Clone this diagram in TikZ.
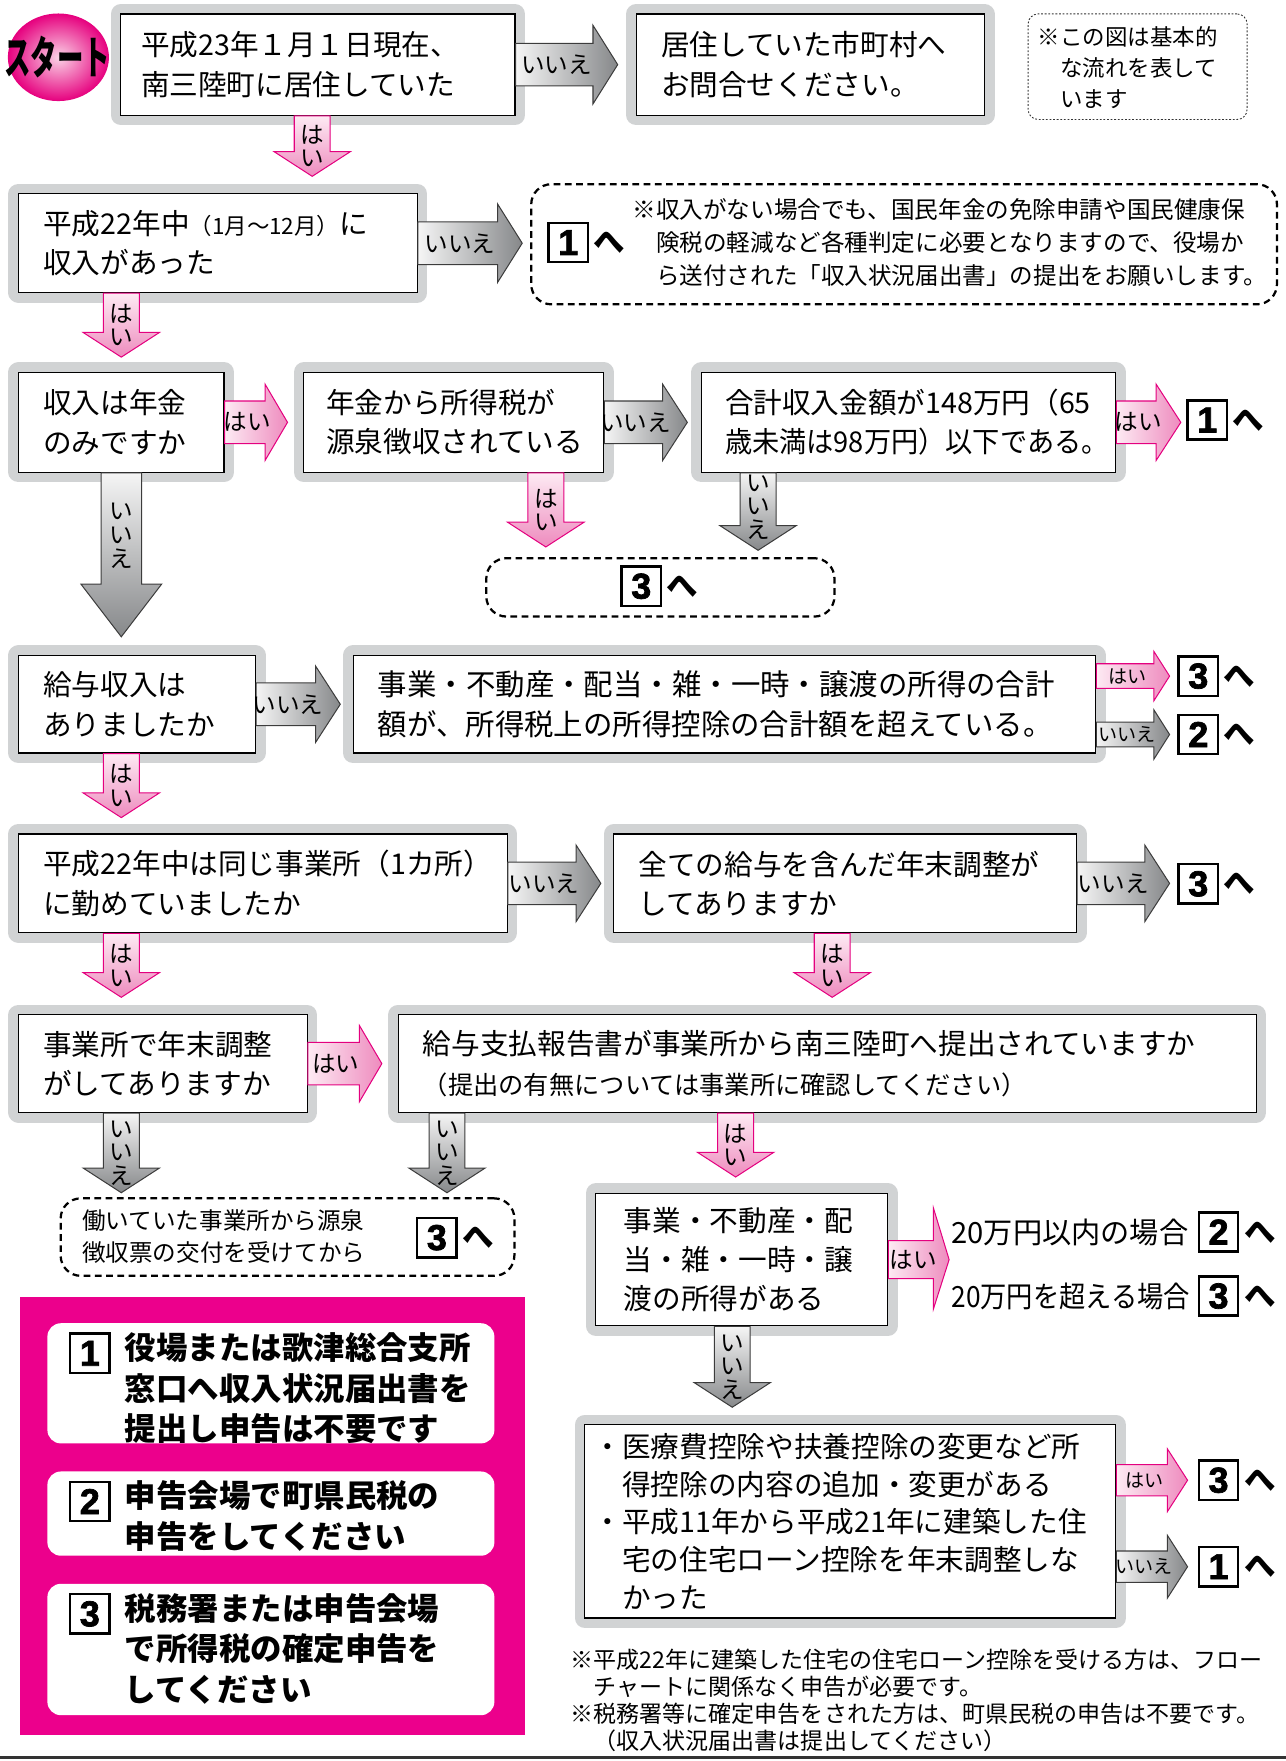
\documentclass[tikz,border=0pt]{standalone}
\usepackage{fontspec}
\setmainfont{Noto Sans CJK JP}
\newfontfamily\digitfont{Liberation Sans}[BoldFeatures={FakeBold=2}]
\usetikzlibrary{calc,shapes.geometric}
\definecolor{framegray}{HTML}{D1D3D4}
\definecolor{panelmag}{HTML}{EC008C}
\definecolor{pinkL}{HTML}{FDEAF3}
\definecolor{pinkD}{HTML}{EE8BBE}
\definecolor{pinkB}{HTML}{E4007F}
\definecolor{grayL}{HTML}{F5F5F5}
\definecolor{grayD}{HTML}{86888A}
\definecolor{grayB}{HTML}{3C3C3C}
\definecolor{badgeL}{HTML}{FAD3E6}
\definecolor{badgeD}{HTML}{E6007E}
\newcommand\mybxf{\fontsize{25.5}{35}\selectfont}
\newcommand\mylblf{\fontsize{21}{21}\selectfont}
\newcommand\mysmlblf{\fontsize{17}{17}\selectfont}
\newcommand\mynotef{\fontsize{21}{29.5}\selectfont}
\newcommand\mynumf{\fontsize{32}{32}\selectfont\digitfont\bfseries}
\newcommand\myhef{\fontsize{28}{28}\selectfont\bfseries}
\newcommand\mypanelf{\fontsize{28}{36}\selectfont\bfseries}
\newcommand\mystartf{\fontsize{31}{31}\selectfont\bfseries}
\tikzset{
  box/.style={draw=black, line width=1.1pt, fill=white,
    preaction={draw=framegray, line width=18pt, line join=round},
    inner ysep=0pt, align=left, anchor=north west, font=\mybxf},
  lbl/.style={font=\mylblf, inner sep=0pt},
  smlbl/.style={font=\mysmlblf, inner sep=0pt},
  vlbl/.style={font=\mylblf, inner sep=0pt, align=center},
  pinkH/.style={draw=pinkB, line width=0.9pt, left color=pinkL, right color=pinkD},
  pinkV/.style={draw=pinkB, line width=0.9pt, top color=pinkL, bottom color=pinkD},
  grayH/.style={draw=grayB, line width=0.9pt, left color=grayL, right color=grayD},
  grayV/.style={draw=grayB, line width=0.9pt, top color=grayL, bottom color=grayD},
  numbox/.style={draw=black, line width=2.2pt, fill=white, minimum width=35pt, minimum height=35pt, inner sep=0pt, font=\mynumf},
  hemark/.style={font=\myhef, inner sep=0pt, anchor=west},
  dashbox/.style={draw=black, line width=2pt, dash pattern=on 6pt off 4pt, rounded corners=18pt, anchor=north west, inner sep=0pt},
  dotbox/.style={draw=black!80, line width=0.8pt, dash pattern=on 1.6pt off 1.6pt, rounded corners=9pt, anchor=north west, inner sep=0pt},
  notetext/.style={font=\mynotef, align=left, inner sep=0pt, anchor=west},
  panelbox/.style={fill=white, rounded corners=12pt, anchor=north west, inner sep=0pt, minimum width=398pt},
  paneltext/.style={font=\mypanelf, align=left, inner sep=0pt, anchor=west},
}
% #1 style, #2 start, #3 end, #4 half shaft, #5 half head, #6 head length, #7 label style, #8 label
\newcommand\HArrow[8]{%
  \draw[#1] let \p1=#2, \p2=#3 in
    (\x1,\y1+#4pt) -- (\x2-#6pt,\y1+#4pt) -- (\x2-#6pt,\y1+#5pt) -- (\x2,\y1)
    -- (\x2-#6pt,\y1-#5pt) -- (\x2-#6pt,\y1-#4pt) -- (\x1,\y1-#4pt) -- cycle;
  \path let \p1=#2, \p2=#3 in node[#7] at ({(\x1+\x2-#6pt)/2+2pt},\y1) {#8};
}
% #1 style, #2 start, #3 end, #4 half shaft, #5 half head, #6 head length, #7 label shift up, #8 label
\newcommand\VArrow[8]{%
  \draw[#1] let \p1=#2, \p2=#3 in
    (\x1-#4pt,\y1) -- (\x1-#4pt,\y2+#6pt) -- (\x1-#5pt,\y2+#6pt) -- (\x1,\y2)
    -- (\x1+#5pt,\y2+#6pt) -- (\x1+#4pt,\y2+#6pt) -- (\x1+#4pt,\y1) -- cycle;
  \path let \p1=#2, \p2=#3 in node[vlbl] at (\x1,{(\y1+\y2)/2+#7pt}) {#8};
}
\begin{document}
\begin{tikzpicture}[x=1pt,y=-1pt]
\useasboundingbox (0,0) rectangle (1145,1568);

% start badge
\node[ellipse, minimum width=90pt, minimum height=78pt, inner sep=0pt, inner color=badgeL, outer color=badgeD] (badge) at (52,51) {};
\node[black, font=\mystartf, inner sep=0pt] (starttext) at (51,51) {\scalebox{0.76}[1.3]{スタート}};

% row 1
\node[box, inner xsep=18pt, text width=315pt, minimum height=90pt] (A) at (107,12) {平成23年１月１日現在、\\南三陸町に居住していた};
\node[box, inner xsep=22pt, text width=266pt, minimum height=90pt] (B) at (566,12) {居住していた市町村へ\\お問合せください。};
\node[dotbox, minimum width=195pt, minimum height=94pt] (note) at (915,12) {};
\node[font=\fontsize{20}{27.5}\selectfont, align=left, inner sep=0pt, anchor=west] (notetxt) at (924,60) {※この図は基本的\\　な流れを表して\\　います};

% row 2
\node[box, inner xsep=22pt, text width=311pt, minimum height=88pt] (C) at (16,172) {平成22年中{\fontsize{20}{20}\selectfont（1月～12月）}に\\収入があった};
\node[dashbox, minimum width=664pt, minimum height=107pt] (Q1) at (472,163) {};
\node[numbox] (n1q) at (506,216) {1};
\node[hemark] (h1q) at ([xshift=4pt]n1q.east) {へ};
\node[notetext] (q1txt) at (563,216) {※収入がない場合でも、国民年金の免除申請や国民健康保\\　険税の軽減など各種判定に必要となりますので、役場か\\　ら送付された「収入状況届出書」の提出をお願いします。};

% row 3
\node[box, inner xsep=22pt, text width=139pt, minimum height=89pt] (D) at (16,331) {収入は年金\\のみですか};
\node[box, inner xsep=20pt, text width=227pt, minimum height=89pt] (E) at (270,331) {年金から所得税が\\源泉徴収されている};
\node[box, inner xsep=21pt, text width=327pt, minimum height=89pt] (F) at (624,331) {合計収入金額が148万円（65\\\scalebox{0.95}[1]{歳未満は98万円）以下である。}};
\node[numbox] (n1a) at (1075,374) {1};
\node[hemark] (h1a) at ([xshift=4pt]n1a.east) {へ};
\node[dashbox, minimum width=310pt, minimum height=52pt] (Q3) at (432,496) {};
\node[numbox] (n3q) at (571,522) {3};
\node[hemark] (h3q) at ([xshift=4pt]n3q.east) {へ};

% row 4
\node[box, inner xsep=22pt, text width=167pt, minimum height=87pt] (G) at (16,583) {給与収入は\\ありましたか};
\node[box, inner xsep=22pt, text width=617pt, minimum height=87pt, font=\fontsize{26.2}{35}\selectfont] (H) at (314,583) {事業・不動産・配当・雑・一時・譲渡の所得の合計\\額が、所得税上の所得控除の合計額を超えている。};
\node[numbox] (n3b) at (1067,602) {3};
\node[hemark] (h3b) at ([xshift=4pt]n3b.east) {へ};
\node[numbox] (n2b) at (1067,654) {2};
\node[hemark] (h2b) at ([xshift=4pt]n2b.east) {へ};

% row 5
\node[box, inner xsep=22pt, text width=391pt, minimum height=88pt] (I) at (16,742) {平成22年中は同じ事業所（1カ所）\\に勤めていましたか};
\node[box, inner xsep=22pt, text width=368pt, minimum height=88pt] (J) at (546,742) {全ての給与を含んだ年末調整が\\してありますか};
\node[numbox] (n3c) at (1067,787) {3};
\node[hemark] (h3c) at ([xshift=4pt]n3c.east) {へ};

% row 6
\node[box, inner xsep=22pt, text width=213pt, minimum height=87pt] (K) at (16,903) {事業所で年末調整\\がしてありますか};
\node[box, inner xsep=22pt, text width=720pt, minimum height=87pt] (L) at (354,903) {給与支払報告書が事業所から南三陸町へ提出されていますか\\{\fontsize{22.5}{30}\selectfont（提出の有無については事業所に確認してください）}};

% row 7
\node[dashbox, minimum width=404pt, minimum height=69pt] (W) at (53,1066) {};
\node[notetext, font=\fontsize{21}{29}\selectfont] (wtxt) at (73,1101) {働いていた事業所から源泉\\徴収票の交付を受けてから};
\node[numbox] (nW) at (389,1102) {3};
\node[hemark] (hW) at ([xshift=4pt]nW.east) {へ};
\node[box, inner xsep=25pt, text width=210pt, minimum height=118pt] (M) at (530,1062) {事業・不動産・配\\当・雑・一時・譲\\渡の所得がある};
\node[font=\fontsize{26}{26}\selectfont, inner sep=0pt, anchor=west] (t20a) at (847,1097) {20万円以内の場合};
\node[font=\fontsize{26}{26}\selectfont, inner sep=0pt, anchor=west] (t20b) at (847,1154) {\scalebox{0.9}[1]{20万円を超える場合}};
\node[numbox] (n2e) at (1085,1097) {2};
\node[hemark] (h2e) at ([xshift=4pt]n2e.east) {へ};
\node[numbox] (n3e) at (1085,1154) {3};
\node[hemark] (h3e) at ([xshift=4pt]n3e.east) {へ};

% row 8
\node[box, inner xsep=8pt, text width=457pt, minimum height=172pt, font=\fontsize{25.5}{33.5}\selectfont] (N) at (520,1268) {・医療費控除や扶養控除の変更など所\\　得控除の内容の追加・変更がある\\・平成11年から平成21年に建築した住\\　宅の住宅ローン控除を年末調整しな\\　かった};
\node[numbox] (n3d) at (1085,1318) {3};
\node[hemark] (h3d) at ([xshift=4pt]n3d.east) {へ};
\node[numbox] (n1d) at (1085,1395) {1};
\node[hemark] (h1d) at ([xshift=4pt]n1d.east) {へ};
\node[notetext, font=\fontsize{20.5}{24.3}\selectfont] (foot) at (508,1514) {※平成22年に建築した住宅の住宅ローン控除を受ける方は、フロー\\　チャートに関係なく申告が必要です。\\※税務署等に確定申告をされた方は、町県民税の申告は不要です。\\　（収入状況届出書は提出してください）};

% legend panel
\node[fill=panelmag, minimum width=449pt, minimum height=390pt, anchor=north west, inner sep=0pt] (panel) at (18,1155) {};
\node[panelbox, minimum height=107pt] (P1) at (42,1178) {};
\node[panelbox, minimum height=75pt] (P2) at (42,1310) {};
\node[panelbox, minimum height=117pt] (P3) at (42,1410) {};
\node[numbox] (p1n) at (80,1205) {1};
\node[numbox] (p2n) at (80,1337) {2};
\node[numbox] (p3n) at (80,1437) {3};
\node[paneltext] (p1t) at (111,1236) {役場または歌津総合支所\\窓口へ収入状況届出書を\\提出し申告は不要です};
\node[paneltext] (p2t) at (111,1350) {申告会場で町県民税の\\申告をしてください};
\node[paneltext] (p3t) at (111,1468) {税務署または申告会場\\で所得税の確定申告を\\してください};

% horizontal arrows
\HArrow{grayH}{(A.east)}{([xshift=-16pt]B.west)}{19}{35}{22}{lbl}{いいえ}
\HArrow{grayH}{(C.east)}{([xshift=-7pt]Q1.west)}{19}{35}{22}{lbl}{いいえ}
\HArrow{pinkH}{(D.east)}{([xshift=-14pt]E.west)}{19}{34}{20}{lbl}{はい}
\HArrow{grayH}{(E.east)}{([xshift=-12pt]F.west)}{19}{34}{22}{lbl}{いいえ}
\HArrow{pinkH}{(F.east)}{([xshift=-5pt]n1a.west)}{19}{34}{22}{lbl}{はい}
\HArrow{grayH}{(G.east)}{([xshift=-11pt]H.west)}{19}{34}{22}{lbl}{いいえ}
\HArrow{pinkH}{(H.east |- n3b.west)}{([xshift=-7pt]n3b.west)}{11}{22}{14}{smlbl}{はい}
\HArrow{grayH}{(H.east |- n2b.west)}{([xshift=-7pt]n2b.west)}{11}{22}{14}{smlbl}{いいえ}
\HArrow{grayH}{(I.east)}{([xshift=-11pt]J.west)}{19}{34}{22}{lbl}{いいえ}
\HArrow{grayH}{(J.east)}{([xshift=-7pt]n3c.west)}{19}{34}{22}{lbl}{いいえ}
\HArrow{pinkH}{(K.east)}{([xshift=-14pt]L.west)}{19}{34}{20}{lbl}{はい}
\HArrow{pinkH}{(N.east |- n3d.west)}{([xshift=-9pt]n3d.west)}{14}{28}{18}{smlbl}{はい}
\HArrow{grayH}{(N.east |- n1d.west)}{([xshift=-9pt]n1d.west)}{14}{28}{18}{smlbl}{いいえ}
% split arrow from M
\draw[pinkH] let \p1=(M.east) in
  (\x1,\y1+17pt) -- (\x1+40pt,\y1+17pt) -- (\x1+40pt,\y1+46pt) -- (\x1+54pt,\y1)
  -- (\x1+40pt,\y1-44pt) -- (\x1+40pt,\y1-17pt) -- (\x1,\y1-17pt) -- cycle;
\path let \p1=(M.east) in node[lbl] (mlbl) at (\x1+22pt,\y1) {はい};

% vertical arrows
\VArrow{pinkV}{([xshift=171pt]A.south west)}{([yshift=15pt]C.north)}{16}{34}{22}{0}{は\\い}
\VArrow{pinkV}{([xshift=92pt]C.south west)}{([yshift=13pt]D.north)}{16}{34}{22}{0}{は\\い}
\VArrow{grayV}{([xshift=92pt]D.south west)}{([yshift=16pt]G.north)}{18}{36}{47}{17}{い\\い\\え}
\VArrow{pinkV}{([xshift=216pt]E.south west)}{([yshift=9pt]Q3.north)}{16}{34}{22}{0}{は\\い}
\VArrow{grayV}{([xshift=51pt]F.south west)}{([yshift=6pt]Q3.north)}{16}{34}{22}{4}{い\\い\\え}
\VArrow{pinkV}{([xshift=92pt]G.south west)}{([yshift=14pt]I.north)}{16}{34}{22}{0}{は\\い}
\VArrow{pinkV}{([xshift=92pt]I.south west)}{([yshift=15pt]K.north)}{16}{34}{22}{0}{は\\い}
\VArrow{pinkV}{([xshift=195pt]J.south west)}{([yshift=15pt]L.north)}{16}{34}{22}{0}{は\\い}
\VArrow{grayV}{([xshift=92pt]K.south west)}{([yshift=4pt]W.north)}{16}{34}{22}{0}{い\\い\\え}
\VArrow{grayV}{([xshift=44pt]L.south west)}{([yshift=4pt]W.north)}{16}{34}{22}{0}{い\\い\\え}
\VArrow{pinkV}{([xshift=301pt]L.south west)}{([yshift=14pt]M.north)}{16}{34}{22}{0}{は\\い}
\VArrow{grayV}{([xshift=122pt]M.south west)}{([yshift=15pt]N.north)}{16}{34}{22}{0}{い\\い\\え}

% bottom rule
\draw[line width=3pt, black!80] (0,1565) -- (1145,1565);
\end{tikzpicture}
\end{document}
